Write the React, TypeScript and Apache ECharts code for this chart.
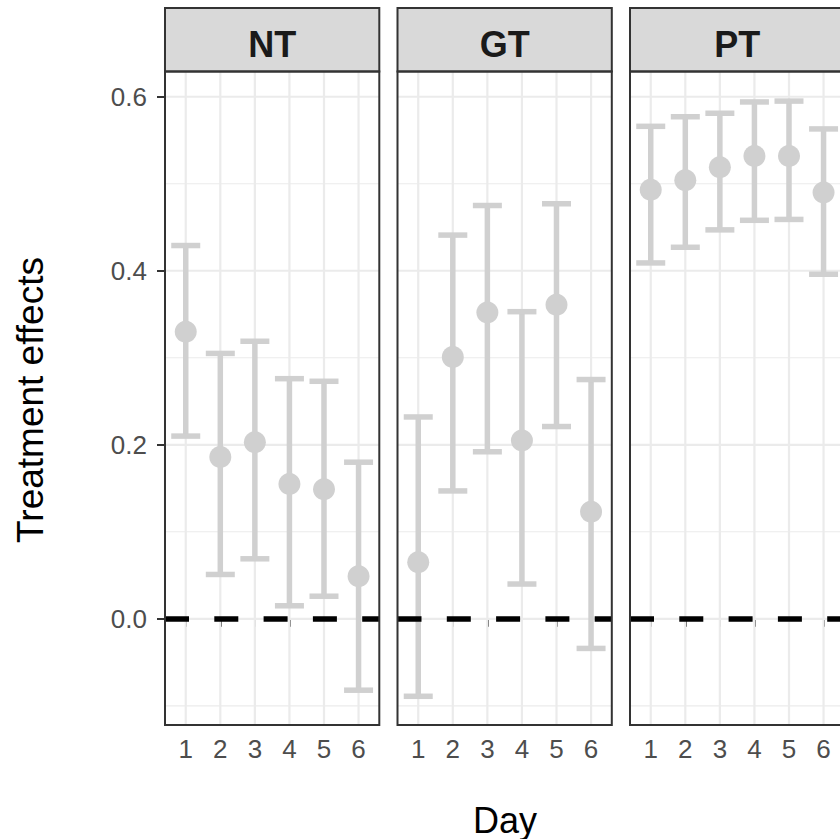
import React, { useEffect, useRef } from "react";
import * as echarts from "echarts";

// ---- data ----
const panels = ["NT", "GT", "PT"];
const days = [1, 2, 3, 4, 5, 6];

const ntMean = [0.330, 0.186, 0.203, 0.155, 0.149, 0.049];
const ntLow = [0.210, 0.051, 0.069, 0.015, 0.026, -0.082];
const ntHigh = [0.429, 0.305, 0.319, 0.276, 0.273, 0.180];

const gtMean = [0.065, 0.301, 0.352, 0.205, 0.361, 0.123];
const gtLow = [-0.089, 0.147, 0.192, 0.040, 0.221, -0.034];
const gtHigh = [0.232, 0.441, 0.475, 0.353, 0.477, 0.275];

const ptMean = [0.493, 0.504, 0.519, 0.532, 0.532, 0.490];
const ptLow = [0.409, 0.427, 0.447, 0.458, 0.459, 0.396];
const ptHigh = [0.566, 0.577, 0.581, 0.594, 0.595, 0.563];

const yTicks = [0, 0.2, 0.4, 0.6];
const yMinor = [-0.1, 0.1, 0.3, 0.5];
const refLine = 0;

const xTitle = "Day";
const yTitle = "Treatment effects";

// ---- layout ----
const W = 840;
const H = 839;
const PANEL_LEFT = [165, 397.5, 630];
const PANEL_W = 214.3;
const PANEL_TOP = 71.5;
const PANEL_H = 653.5;
const STRIP_TOP = 8;
const X_MIN = 0.4;
const X_MAX = 6.6;
const Y_MIN = -0.122;
const Y_MAX = 0.629;
const FONT = "'Liberation Sans', Arial, Helvetica, sans-serif";
const BAR_COLOR = "#D0D0D0";

const means = [ntMean, gtMean, ptMean];
const lows = [ntLow, gtLow, ptLow];
const highs = [ntHigh, gtHigh, ptHigh];

export default function App() {
  const ref = useRef<HTMLDivElement>(null);

  useEffect(() => {
    if (!ref.current) return;
    const chart = echarts.init(ref.current, null, { renderer: "svg" });

    const grids: any[] = [];
    const xAxes: any[] = [];
    const yAxes: any[] = [];
    const series: any[] = [];
    const graphics: any[] = [];

    panels.forEach((name, i) => {
      grids.push({
        left: PANEL_LEFT[i],
        top: PANEL_TOP,
        width: PANEL_W,
        height: PANEL_H,
        show: false,
        containLabel: false,
        outerBoundsMode: "none",
      });
      xAxes.push({
        gridIndex: i,
        type: "value",
        min: X_MIN,
        max: X_MAX,
        axisLine: { show: false },
        splitLine: { show: false },
        axisTick: {
          show: true,
          length: 8,
          customValues: days,
          lineStyle: { color: "#333333", width: 2 },
        },
        axisLabel: {
          show: true,
          customValues: days,
          margin: 11,
          fontSize: 26,
          color: "#4D4D4D",
          fontFamily: FONT,
        },
      });
      yAxes.push({
        gridIndex: i,
        type: "value",
        min: Y_MIN,
        max: Y_MAX,
        axisLine: { show: false },
        splitLine: { show: false },
        axisTick: {
          show: i === 0,
          length: 8,
          customValues: yTicks,
          lineStyle: { color: "#333333", width: 2 },
        },
        axisLabel: {
          show: i === 0,
          customValues: yTicks,
          margin: 18,
          fontSize: 26,
          color: "#4D4D4D",
          fontFamily: FONT,
          padding: [5, 0, 0, 0],
          formatter: (v: number) => v.toFixed(1),
        },
      });

      // grid lines (kind 0: vertical major, 1: horizontal major, 2: horizontal minor)
      const gridData: number[][] = [
        ...days.map((d) => [0, d]),
        ...yTicks.map((v) => [1, v]),
        ...yMinor.map((v) => [2, v]),
      ];
      series.push({
        type: "custom",
        xAxisIndex: i,
        yAxisIndex: i,
        z: 1,
        silent: true,
        data: gridData,
        renderItem: (_p: any, api: any) => {
          const kind = api.value(0);
          const v = api.value(1);
          let a: number[];
          let b: number[];
          if (kind === 0) {
            a = api.coord([v, Y_MIN]);
            b = api.coord([v, Y_MAX]);
          } else {
            a = api.coord([X_MIN, v]);
            b = api.coord([X_MAX, v]);
          }
          return {
            type: "line",
            shape: { x1: a[0], y1: a[1], x2: b[0], y2: b[1] },
            style: { stroke: "#EBEBEB", lineWidth: kind === 2 ? 1.1 : 2.2 },
          };
        },
      });

      // error bars + points
      const barData = days.map((d, k) => [d, lows[i][k], highs[i][k], means[i][k]]);
      series.push({
        type: "custom",
        name: name,
        xAxisIndex: i,
        yAxisIndex: i,
        z: 3,
        data: barData,
        encode: { x: 0, y: [1, 2, 3] },
        renderItem: (_p: any, api: any) => {
          const x = api.value(0);
          const lo = api.coord([x, api.value(1)]);
          const hi = api.coord([x, api.value(2)]);
          const mid = api.coord([x, api.value(3)]);
          const hw = 14.5;
          const style = { stroke: BAR_COLOR, lineWidth: 5.5, fill: null };
          return {
            type: "group",
            children: [
              { type: "line", shape: { x1: lo[0], y1: lo[1], x2: hi[0], y2: hi[1] }, style },
              { type: "line", shape: { x1: lo[0] - hw, y1: lo[1], x2: lo[0] + hw, y2: lo[1] }, style },
              { type: "line", shape: { x1: hi[0] - hw, y1: hi[1], x2: hi[0] + hw, y2: hi[1] }, style },
              { type: "circle", shape: { cx: mid[0], cy: mid[1], r: 11 }, style: { fill: BAR_COLOR } },
            ],
          };
        },
        markLine: {
          silent: true,
          symbol: ["none", "none"],
          label: { show: false },
          animation: false,
          lineStyle: { color: "#000000", width: 5.5, type: [24, 25.3] },
          data: [{ yAxis: refLine }],
        },
      });

      // strip
      graphics.push({
        type: "rect",
        z: 10,
        shape: { x: PANEL_LEFT[i], y: STRIP_TOP, width: PANEL_W, height: PANEL_TOP - STRIP_TOP },
        style: { fill: "#D9D9D9", stroke: "#333333", lineWidth: 2 },
      });
      graphics.push({
        type: "text",
        z: 11,
        x: PANEL_LEFT[i] + PANEL_W / 2,
        y: 44,
        style: {
          text: name,
          fill: "#1A1A1A",
          font: `bold 36px ${FONT}`,
          textAlign: "center",
          textVerticalAlign: "middle",
        },
      });
      // panel border
      graphics.push({
        type: "rect",
        z: 10,
        shape: { x: PANEL_LEFT[i], y: PANEL_TOP, width: PANEL_W, height: PANEL_H },
        style: { fill: null, stroke: "#333333", lineWidth: 2 },
      });
    });

    graphics.push({
      type: "text",
      z: 11,
      x: 505,
      y: 820,
      style: {
        text: xTitle,
        fill: "#000000",
        font: `36px ${FONT}`,
        textAlign: "center",
        textVerticalAlign: "middle",
      },
    });
    graphics.push({
      type: "text",
      z: 11,
      x: 30,
      y: 400,
      rotation: Math.PI / 2,
      style: {
        text: yTitle,
        fill: "#000000",
        font: `37px ${FONT}`,
        textAlign: "center",
        textVerticalAlign: "middle",
      },
    });

    chart.setOption({
      animation: false,
      backgroundColor: "#FFFFFF",
      grid: grids,
      xAxis: xAxes,
      yAxis: yAxes,
      series,
      graphic: { elements: graphics },
    });

    return () => chart.dispose();
  }, []);

  return (
    <div
      ref={ref}
      style={{ position: "fixed", left: 0, top: 0, width: W, height: H }}
    />
  );
}
